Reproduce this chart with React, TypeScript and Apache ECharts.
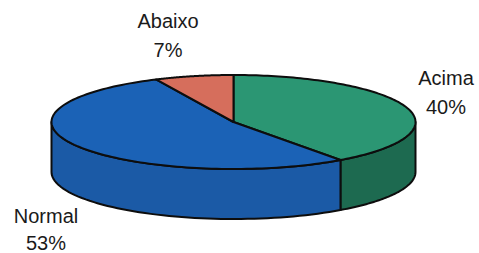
import React, { useEffect, useRef } from "react";
import * as echarts from "echarts";

const categories = ["Acima", "Normal", "Abaixo"];
const values = [40, 53, 7];
const topColors = ["#2b9673", "#1b62b6", "#d66e5c"];
const sideColors = ["#1d6a50", "#1b5aa6", "#b85546"];

export default function App() {
  const ref = useRef<HTMLDivElement>(null);
  useEffect(() => {
    document.body.style.margin = "0";
    const chart = echarts.init(ref.current!, null, { renderer: "svg" });
    const total = values.reduce((a, b) => a + b, 0);
    const cx = 233.5, cy = 122, rx = 182, ry = 47, depth = 50;
    const pt = (deg: number, dy = 0) => {
      const r = (deg * Math.PI) / 180;
      return [cx + rx * Math.sin(r), cy - ry * Math.cos(r) + dy];
    };
    const starts: number[] = [];
    let acc = 0;
    values.forEach((v) => {
      starts.push((acc / total) * 360);
      acc += v;
    });
    const labelPos = [
      [446, 78, 107],
      [46, 216, 243],
      [168, 21, 50],
    ];
    const graphics: any[] = [];
    categories.forEach((c, i) => {
      const pct = Math.round((values[i] / total) * 100) + "%";
      [c, pct].forEach((t, k) => {
        graphics.push({
          type: "text",
          x: labelPos[i][0],
          y: labelPos[i][k + 1],
          style: {
            text: t,
            fill: "#1a1a1a",
            font: '20px "Liberation Sans", Arial, sans-serif',
            textAlign: "center",
            textVerticalAlign: "middle",
          },
        });
      });
    });
    chart.setOption({
      animation: false,
      backgroundColor: "#fff",
      graphic: graphics,
      series: [
        {
          type: "custom",
          coordinateSystem: "none",
          data: values.map((v) => [v]),
          renderItem: (params: any, api: any) => {
            const i = params.dataIndex;
            const v = api.value(0);
            const a = starts[i];
            const b = a + (v / total) * 360;
            const children: any[] = [];
            const sa = Math.max(a, 90), sb = Math.min(b, 270);
            if (sb > sa) {
              const topPts: number[][] = [];
              const botPts: number[][] = [];
              const n = 60;
              for (let k = 0; k <= n; k++) {
                const d = sa + ((sb - sa) * k) / n;
                topPts.push(pt(d));
                botPts.push(pt(d, depth));
              }
              children.push({
                type: "polygon",
                shape: { points: topPts.concat(botPts.reverse()) },
                style: { fill: sideColors[i], stroke: "#0d0d0d", lineWidth: 2, lineJoin: "round" },
              });
            }
            const pts: number[][] = [[cx, cy]];
            const n = 120;
            for (let k = 0; k <= n; k++) pts.push(pt(a + ((b - a) * k) / n));
            children.push({
              type: "polygon",
              shape: { points: pts },
              style: { fill: topColors[i], stroke: "#0d0d0d", lineWidth: 2, lineJoin: "round" },
            });
            return { type: "group", children };
          },
        },
      ],
    });
    return () => chart.dispose();
  }, []);
  return <div ref={ref} style={{ width: 479, height: 253 }} />;
}
